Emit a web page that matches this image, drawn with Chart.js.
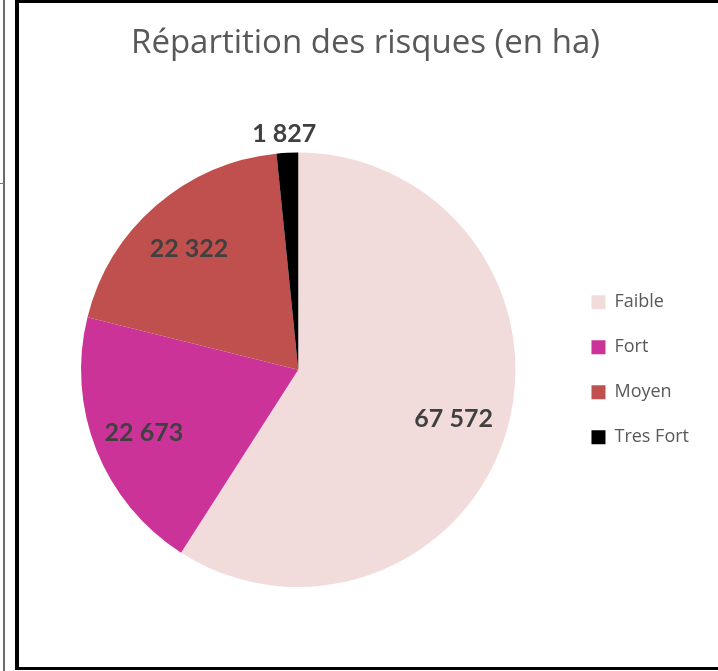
<!DOCTYPE html>
<html>
<head>
<meta charset="utf-8">
<script src="https://cdn.jsdelivr.net/npm/chart.js@4/dist/chart.umd.min.js"></script>
<style>
  html, body { margin: 0; padding: 0; background: #fff; width: 718px; height: 671px; overflow: hidden; }
  #edge { position: absolute; left: 3px; top: 0; width: 2px; height: 671px; background: #6a6a6a; }
  #edgeTick { position: absolute; left: 0; top: 183px; width: 4px; height: 1px; background: #777; }
  #frame { position: absolute; left: 15px; top: 0; width: 720px; height: 664px; border-style: solid; border-color: #000; border-width: 3px 0 3px 4px; }
  #wrap { position: absolute; left: 0; top: 0; width: 699px; height: 664px; }
</style>
</head>
<body>
<div id="edge"></div>
<div id="edgeTick"></div>
<div id="frame"><div id="wrap"><canvas id="c"></canvas></div></div>
<script>
const categories = ["Faible", "Fort", "Moyen", "Tres Fort"];
const values = [67572, 22673, 22322, 1827];
const colors = ["#F2DCDB", "#CC3399", "#C0504D", "#000000"];
const titleText = "Répartition des risques (en ha)";

function fmt(v) {
  return String(v).replace(/\B(?=(\d{3})+(?!\d))/g, " ");
}

const labelPlugin = {
  id: "sliceLabels",
  afterDatasetsDraw(chart) {
    const ctx = chart.ctx;
    const meta = chart.getDatasetMeta(0);
    const total = values.reduce((a, b) => a + b, 0);
    ctx.save();
    ctx.font = "bold 25px Lato";
    ctx.fillStyle = "#404040";
    ctx.textAlign = "center";
    ctx.textBaseline = "middle";
    meta.data.forEach((arc, i) => {
      const p = arc.getProps(["x", "y", "startAngle", "endAngle", "outerRadius"], true);
      const mid = (p.startAngle + p.endAngle) / 2;
      const small = values[i] / total < 0.05;
      const r = small ? p.outerRadius + 22 : p.outerRadius * 0.755;
      ctx.fillText(fmt(values[i]), p.x + Math.cos(mid) * r - 2, p.y + Math.sin(mid) * r + 3);
    });
    ctx.restore();
  }
};

new Chart(document.getElementById("c"), {
  type: "pie",
  data: {
    labels: categories,
    datasets: [{
      data: values,
      backgroundColor: colors,
      borderWidth: 0
    }]
  },
  options: {
    responsive: true,
    maintainAspectRatio: false,
    animation: false,
    layout: { padding: { left: 13, right: 19, top: 0, bottom: 80 } },
    plugins: {
      title: {
        display: true,
        text: titleText,
        color: "#595959",
        font: { family: "Open Sans", size: 33, weight: "normal", lineHeight: 1.2 },
        padding: { top: 21, bottom: 89 }
      },
      legend: {
        position: "right",
        fullSize: false,
        labels: {
          color: "#595959",
          font: { family: "Open Sans", size: 18 },
          boxWidth: 14,
          boxHeight: 14,
          padding: 27
        }
      },
      tooltip: { enabled: false }
    }
  },
  plugins: [labelPlugin]
});
</script>
</body>
</html>
